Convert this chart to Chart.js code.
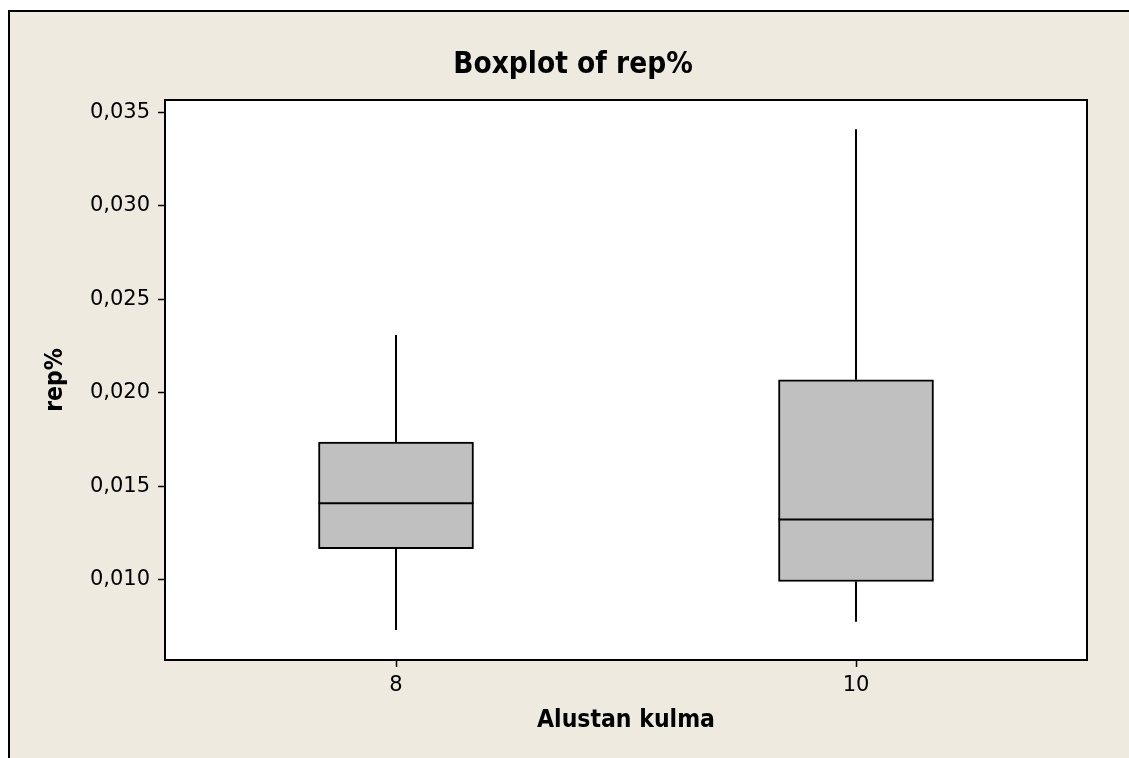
<!DOCTYPE html>
<html>
<head>
<meta charset="utf-8">
<script src="https://cdn.jsdelivr.net/npm/chart.js@4.4.1/dist/chart.umd.min.js"></script>
<style>
  html, body { margin: 0; padding: 0; background: #ffffff; width: 1129px; height: 758px; overflow: hidden; }
  #frame { position: absolute; left: 8px; top: 10px; width: 1140px; height: 760px;
           border-left: 2px solid #000; border-top: 2px solid #000; background: #EEEAE0; }
  #wrap { position: absolute; left: 0; top: 0; width: 1126px; height: 746px; }
</style>
</head>
<body>
<div id="frame"><div id="wrap"><canvas id="c" width="1126" height="746"></canvas></div></div>
<script>
// ---- data ----
const categories = [8, 10];
const whiskerLow  = [0.00733, 0.00777];
const q1Values    = [0.01168, 0.00992];
const medians     = [0.01410, 0.01323];
const q3Values    = [0.01737, 0.02070];
const whiskerHigh = [0.02310, 0.03409];
const yTickValues = [0.010, 0.015, 0.020, 0.025, 0.030, 0.035];
const xTickValues = [8, 10];
const chartTitle = 'Boxplot of rep%';
const xTitle = 'Alustan kulma';
const yTitle = 'rep%';

const BOLD = '"DejaVu Sans Condensed", "DejaVu Sans", sans-serif';
const REG = '"DejaVu Sans", sans-serif';

const boxData = categories.map((c, i) => ({ x: c, y: [q1Values[i], q3Values[i]] }));

const boxPlugin = {
  id: 'boxExtras',
  beforeDatasetsDraw(chart) {
    const { ctx, chartArea: a } = chart;
    ctx.save();
    ctx.fillStyle = '#ffffff';
    ctx.fillRect(a.left, a.top, a.right - a.left, a.bottom - a.top);
    ctx.restore();
  },
  afterDatasetsDraw(chart) {
    const { ctx } = chart;
    const xs = chart.scales.x, ys = chart.scales.y;
    const meta = chart.getDatasetMeta(0);
    ctx.save();
    ctx.strokeStyle = '#000';
    ctx.lineWidth = 2;
    categories.forEach((c, i) => {
      const px = Math.round(xs.getPixelForValue(c));
      ctx.beginPath();
      ctx.moveTo(px, ys.getPixelForValue(whiskerHigh[i]));
      ctx.lineTo(px, ys.getPixelForValue(q3Values[i]));
      ctx.moveTo(px, ys.getPixelForValue(q1Values[i]));
      ctx.lineTo(px, ys.getPixelForValue(whiskerLow[i]));
      ctx.stroke();
      const el = meta.data[i];
      const w = el.width;
      const my = ys.getPixelForValue(medians[i]);
      ctx.beginPath();
      ctx.moveTo(el.x - w / 2, my);
      ctx.lineTo(el.x + w / 2, my);
      ctx.stroke();
    });
    ctx.restore();
  },
  afterDraw(chart) {
    const { ctx, chartArea: a, width } = chart;
    ctx.save();
    ctx.strokeStyle = '#000';
    ctx.lineWidth = 2;
    ctx.strokeRect(a.left - 1, a.top - 1, a.right - a.left + 2, a.bottom - a.top + 2);
    // chart title, centred on the canvas
    ctx.fillStyle = '#000';
    ctx.font = 'bold 29.5px ' + BOLD;
    ctx.textAlign = 'center';
    ctx.textBaseline = 'middle';
    ctx.fillText(chartTitle, width / 2, 53);
    ctx.restore();
  }
};

new Chart(document.getElementById('c'), {
  type: 'bar',
  data: {
    datasets: [{
      data: boxData,
      backgroundColor: '#C0C0C0',
      borderColor: '#000000',
      borderWidth: 2,
      borderSkipped: false,
      barThickness: 155
    }]
  },
  plugins: [boxPlugin],
  options: {
    responsive: false,
    animation: false,
    devicePixelRatio: 1,
    layout: { padding: { left: 0, right: 50, top: 89, bottom: 0 } },
    plugins: {
      legend: { display: false },
      tooltip: { enabled: false },
      title: { display: false }
    },
    scales: {
      x: {
        type: 'linear',
        offset: false,
        min: 7, max: 11,
        afterBuildTicks(s) { s.ticks = xTickValues.map(v => ({ value: v })); },
        afterFit(s) { s.height = 99; },
        ticks: { color: '#000', font: { family: REG, size: 21 }, padding: 6,
                 callback: v => String(v) },
        grid: { offset: false, drawOnChartArea: false, drawTicks: true, tickLength: 8, tickColor: '#000', tickWidth: 1.5 },
        border: { display: false },
        title: { display: true, text: xTitle, color: '#000',
                 font: { family: BOLD, size: 24.5, weight: 'bold', lineHeight: 1.2 },
                 padding: { top: 0, bottom: 23 } }
      },
      y: {
        type: 'linear',
        min: 0.005777, max: 0.035604,
        afterBuildTicks(s) { s.ticks = yTickValues.map(v => ({ value: v })); },
        afterFit(s) { s.width = 156; },
        ticks: { color: '#000', font: { family: REG, size: 21 }, padding: 8,
                 callback: v => v.toFixed(3).replace('.', ',') },
        grid: { drawOnChartArea: false, drawTicks: true, tickLength: 8, tickColor: '#000', tickWidth: 1.5 },
        border: { display: false },
        title: { display: true, text: yTitle, color: '#000',
                 font: { family: BOLD, size: 24.5, weight: 'bold', lineHeight: 1.2 },
                 padding: { top: 31, bottom: 0 } }
      }
    }
  }
});
</script>
</body>
</html>
